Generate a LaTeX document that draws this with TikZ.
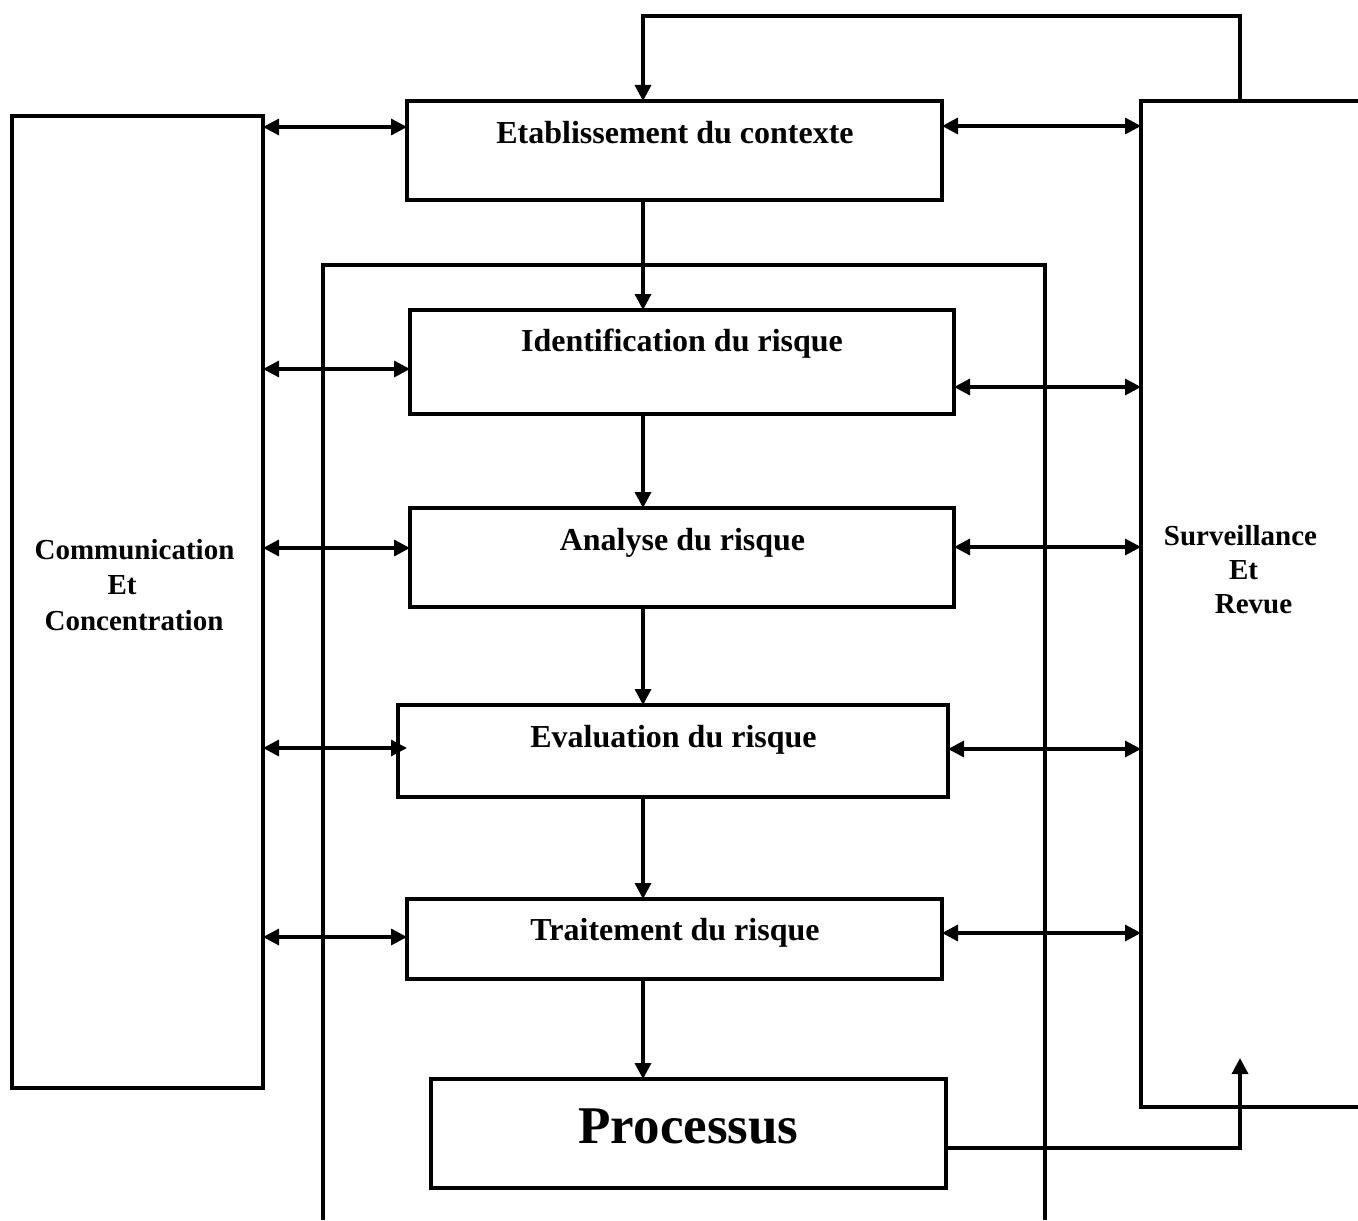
\documentclass[tikz,border=0pt]{standalone}
\usepackage{fontspec}
\setmainfont{Liberation Serif}
\usetikzlibrary{arrows.meta}

\begin{document}
\begin{tikzpicture}[x=0.5pt, y=-0.5pt, line width=1.65pt, >={Triangle[length=8pt,width=8pt]},
  boite/.style={draw, anchor=north west, inner sep=0pt, outer sep=0pt},
  titre/.style={anchor=base, inner sep=0pt, font=\fontsize{16}{19}\selectfont\bfseries},
  cote/.style={anchor=base, inner sep=0pt, font=\fontsize{14.5}{17.5}\selectfont\bfseries}]
\useasboundingbox (0,0) rectangle (1358,1220);
\node[boite, minimum width=125.5pt, minimum height=486pt] (comm) at (12,116) {};
\node[boite, draw=none, minimum width=108.5pt, minimum height=503pt] (surv) at (1141,101) {};
\node[boite, minimum width=267.5pt, minimum height=49.5pt] (etab) at (407,101) {};
\node[boite, minimum width=272pt, minimum height=52pt] (ident) at (410,310) {};
\node[boite, minimum width=272pt, minimum height=49.5pt] (analyse) at (410,508) {};
\node[boite, minimum width=275pt, minimum height=46pt] (evalu) at (398,705) {};
\node[boite, minimum width=267.5pt, minimum height=40pt] (trait) at (407,899) {};
\node[boite, minimum width=257.5pt, minimum height=54.5pt] (proc) at (431,1079) {};
\draw (surv.north east) -- (surv.north west) -- (surv.south west) -- (surv.south east);
\draw (323,1220) -- (323,265) -- (1045,265) -- (1045,1220);
\node[titre] (etabtxt) at (675,143) {Etablissement du contexte};
\node[titre] (identtxt) at (682,351) {Identification du risque};
\node[titre] (analysetxt) at (682.5,550) {Analyse du risque};
\node[titre] (evalutxt) at (673.5,747) {Evaluation du risque};
\node[titre] (traittxt) at (675,940) {Traitement du risque};
\node[titre, font=\fontsize{26.5}{30}\selectfont\bfseries] (proctxt) at (688.5,1143) {Processus};
\node[cote] (comm1) at (134.5,559) {Communication};
\node[cote] (comm2) at (122,594) {Et};
\node[cote] (comm3) at (134,630) {Concentration};
\node[cote] (surv1) at (1240.5,545) {Surveillance};
\node[cote] (surv2) at (1243.5,579) {Et};
\node[cote] (surv3) at (1253.5,613) {Revue};
\coordinate (axe) at (643,0);
\coordinate (retour) at (1240,16);
\draw[->] (axe |- etab.south) -- (axe |- ident.north);
\draw[->] (axe |- ident.south) -- (axe |- analyse.north);
\draw[->] (axe |- analyse.south) -- (axe |- evalu.north);
\draw[->] (axe |- evalu.south) -- (axe |- trait.north);
\draw[->] (axe |- trait.south) -- (axe |- proc.north);
\draw[->] (retour |- surv.north) -- (retour) -| (axe |- etab.north);
\draw[->] ([yshift=-7.25pt]proc.east) -| (retour |- 0,1058);
\draw[<->] (comm.east |- 0,127) -- (etab.west |- 0,127);
\draw[<->] (comm.east |- 0,369) -- (ident.west |- 0,369);
\draw[<->] (comm.east |- 0,548) -- (analyse.west |- 0,548);
\draw[<->] (comm.east |- 0,748) -- ([xshift=4.5pt]evalu.west |- 0,748);
\draw[<->] (comm.east |- 0,937) -- (trait.west |- 0,937);
\draw[<->] (etab.east |- 0,126) -- (surv.west |- 0,126);
\draw[<->] (ident.east |- 0,387) -- (surv.west |- 0,387);
\draw[<->] (analyse.east |- 0,547) -- (surv.west |- 0,547);
\draw[<->] (evalu.east |- 0,749) -- (surv.west |- 0,749);
\draw[<->] (trait.east |- 0,933) -- (surv.west |- 0,933);
\end{tikzpicture}
\end{document}
